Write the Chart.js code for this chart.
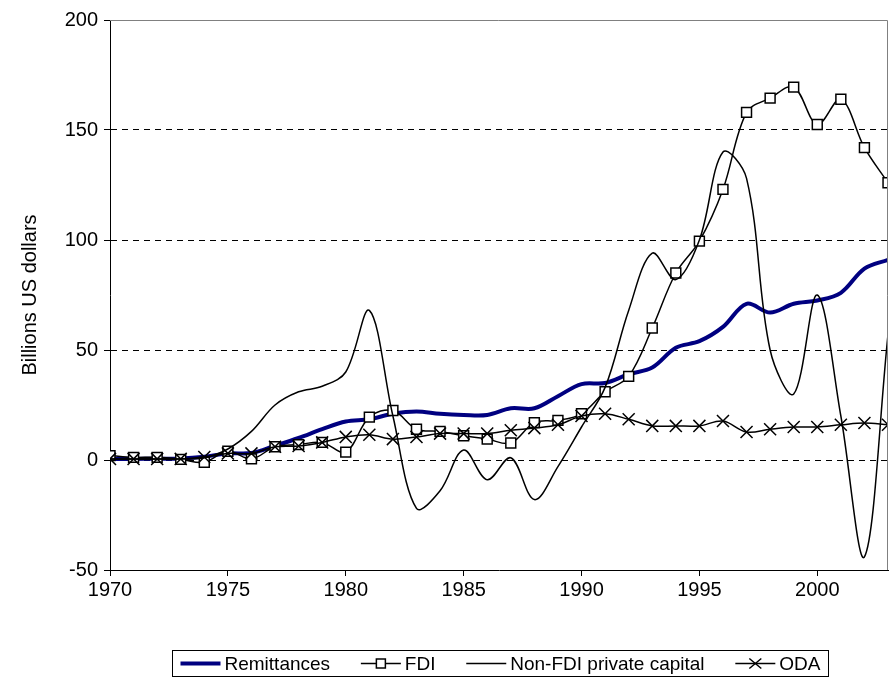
<!DOCTYPE html>
<html>
<head>
<meta charset="utf-8">
<script src="https://cdn.jsdelivr.net/npm/chart.js@4.4.1/dist/chart.umd.min.js"></script>
<style>
  html, body { margin: 0; padding: 0; background: #fff; }
  #wrap { position: relative; width: 890px; height: 690px; }
</style>
</head>
<body>
<div id="wrap"><canvas id="flowChart" width="890" height="690"></canvas></div>
<script>
const years = [1970, 1971, 1972, 1973, 1974, 1975, 1976, 1977, 1978, 1979,
               1980, 1981, 1982, 1983, 1984, 1985, 1986, 1987, 1988, 1989,
               1990, 1991, 1992, 1993, 1994, 1995, 1996, 1997, 1998, 1999,
               2000, 2001, 2002, 2003];

// Billions US dollars
const remittances = [0.5, 0.5, 0.6, 0.7, 1.5, 3, 3.2, 6.5, 10, 14,
                     17.5, 18.5, 21, 22, 21, 20.5, 20.5, 23.5, 23.5, 29,
                     34.5, 35, 39, 42, 51, 54, 60.5, 71, 67, 71,
                     72.5, 76, 87, 91];
const fdi = [2, 1.2, 1.2, 0.3, -1, 4, 0.5, 6, 7, 8,
             3.6, 19.5, 22.5, 14, 13, 11, 9.5, 7.7, 17, 18,
             21, 31, 38, 60, 85, 99.5, 123, 158, 164.5, 169.5,
             152.5, 164, 142, 126];
const nonFdi = [0.5, 0.5, 0.5, 0.5, 1, 5, 13, 25, 31, 33.5,
                40, 68, 20, -22, -14, 4.5, -9, 1, -18, -3,
                15, 33, 68, 94, 82, 100, 140, 128, 50, 30,
                75, 20, -44, 57];
const oda = [0.5, 0.5, 0.5, 0.5, 1.4, 3, 3, 6, 6.4, 8,
             10.5, 11.5, 9.5, 10.5, 12, 12, 12, 13.5, 14.5, 16,
             20, 21, 18.5, 15.5, 15.5, 15.5, 17.7, 12.7, 14, 15,
             15, 16, 16.8, 16];

const xTicks = [1970, 1975, 1980, 1985, 1990, 1995, 2000];
const yTicks = [-50, 0, 50, 100, 150, 200];

const FONT = '"Liberation Sans", Arial, sans-serif';

function toPoints(vals) {
    return years.map((yr, i) => ({ x: yr, y: vals[i] }));
}

// plot area frame (top + right) and the boxed legend under the chart
const frameAndLegend = {
    id: 'frameAndLegend',
    afterDraw(chart) {
        const ctx = chart.ctx;
        const area = chart.chartArea;
        ctx.save();

        ctx.strokeStyle = '#808080';
        ctx.lineWidth = 1;
        ctx.beginPath();
        ctx.moveTo(area.left, area.top + 0.5);
        ctx.lineTo(area.right - 0.5, area.top + 0.5);
        ctx.lineTo(area.right - 0.5, area.bottom);
        ctx.stroke();

        ctx.font = '19px ' + FONT;
        ctx.textBaseline = 'middle';
        const sets = chart.data.datasets;
        const sym = 40, gapA = 4;
        const boxX = 172.5, boxY = 650.5, boxW = 656, boxH = 26;
        const widths = sets.map(d => sym + gapA + ctx.measureText(d.label).width);
        const used = widths.reduce((a, b) => a + b, 0);
        const pad = 8;
        const gapB = (boxW - 2 * pad - used) / (sets.length - 1);

        ctx.strokeStyle = '#000';
        ctx.lineWidth = 1;
        ctx.strokeRect(boxX, boxY, boxW, boxH);

        let x = boxX + pad;
        const cy = boxY + boxH / 2;
        sets.forEach((d, i) => {
            ctx.strokeStyle = d.borderColor;
            ctx.lineWidth = d.borderWidth;
            ctx.beginPath();
            ctx.moveTo(x, cy);
            ctx.lineTo(x + sym, cy);
            ctx.stroke();
            const mx = x + sym / 2;
            if (d.pointStyle === 'rect') {
                ctx.fillStyle = '#fff';
                ctx.lineWidth = 1.5;
                ctx.fillRect(mx - 4.5, cy - 4.5, 9, 9);
                ctx.strokeRect(mx - 4.5, cy - 4.5, 9, 9);
            } else if (d.pointStyle === 'crossRot') {
                ctx.lineWidth = 1.5;
                ctx.beginPath();
                ctx.moveTo(mx - 6, cy - 5);
                ctx.lineTo(mx + 6, cy + 5);
                ctx.moveTo(mx + 6, cy - 5);
                ctx.lineTo(mx - 6, cy + 5);
                ctx.stroke();
            }
            ctx.fillStyle = '#000';
            ctx.fillText(d.label, x + sym + gapA, cy + 1);
            x += widths[i] + gapB;
        });
        ctx.restore();
    }
};

const ctx = document.getElementById('flowChart').getContext('2d');

new Chart(ctx, {
    type: 'line',
    data: {
        datasets: [
            {
                label: 'Remittances',
                data: toPoints(remittances),
                borderColor: '#000080',
                borderWidth: 4,
                pointRadius: 0,
                order: 4
            },
            {
                label: 'FDI',
                data: toPoints(fdi),
                borderColor: '#000',
                borderWidth: 1.5,
                pointStyle: 'rect',
                pointRadius: 7,
                pointBackgroundColor: '#fff',
                pointBorderColor: '#000',
                pointBorderWidth: 1.5,
                order: 3
            },
            {
                label: 'Non-FDI private capital',
                data: toPoints(nonFdi),
                borderColor: '#000',
                borderWidth: 1.5,
                pointRadius: 0,
                order: 2
            },
            {
                label: 'ODA',
                data: toPoints(oda),
                borderColor: '#000',
                borderWidth: 1.5,
                pointStyle: 'crossRot',
                pointRadius: 8.5,
                pointBorderColor: '#000',
                pointBorderWidth: 1.5,
                order: 1
            }
        ]
    },
    options: {
        responsive: false,
        animation: false,
        layout: { autoPadding: false, padding: { top: 20, right: 2, left: 0, bottom: 0 } },
        elements: { line: { tension: 0.35, fill: false } },
        plugins: {
            legend: { display: false },
            tooltip: { enabled: false }
        },
        scales: {
            x: {
                type: 'linear',
                min: 1970,
                max: 2003,
                afterBuildTicks: scale => { scale.ticks = xTicks.map(v => ({ value: v })); },
                afterFit: scale => {
                    scale.height = 120;
                    scale.paddingLeft = 0;
                    scale.paddingRight = 0;
                },
                ticks: {
                    color: '#000',
                    font: { family: FONT, size: 20 },
                    padding: 2,
                    maxRotation: 0,
                    callback: v => String(v)
                },
                grid: { drawOnChartArea: false, tickLength: 6, tickColor: '#000', color: '#000' },
                border: { color: '#000', width: 1 }
            },
            y: {
                min: -50,
                max: 200,
                afterBuildTicks: scale => { scale.ticks = yTicks.map(v => ({ value: v })); },
                afterFit: scale => { scale.width = 110; },
                ticks: {
                    color: '#000',
                    font: { family: FONT, size: 20 },
                    padding: 6
                },
                grid: {
                    color: c => (c.tick && c.tick.value > -50 && c.tick.value < 200) ? '#000' : 'rgba(0,0,0,0)',
                    tickColor: '#000',
                    tickBorderDash: [],
                    tickLength: 6
                },
                border: { color: '#000', width: 1, dash: [6, 5] },
                title: {
                    display: true,
                    text: 'Billions US dollars',
                    color: '#000',
                    font: { family: FONT, size: 20 },
                    padding: { top: 18, bottom: 0 }
                }
            }
        }
    },
    plugins: [frameAndLegend]
});
</script>
</body>
</html>
